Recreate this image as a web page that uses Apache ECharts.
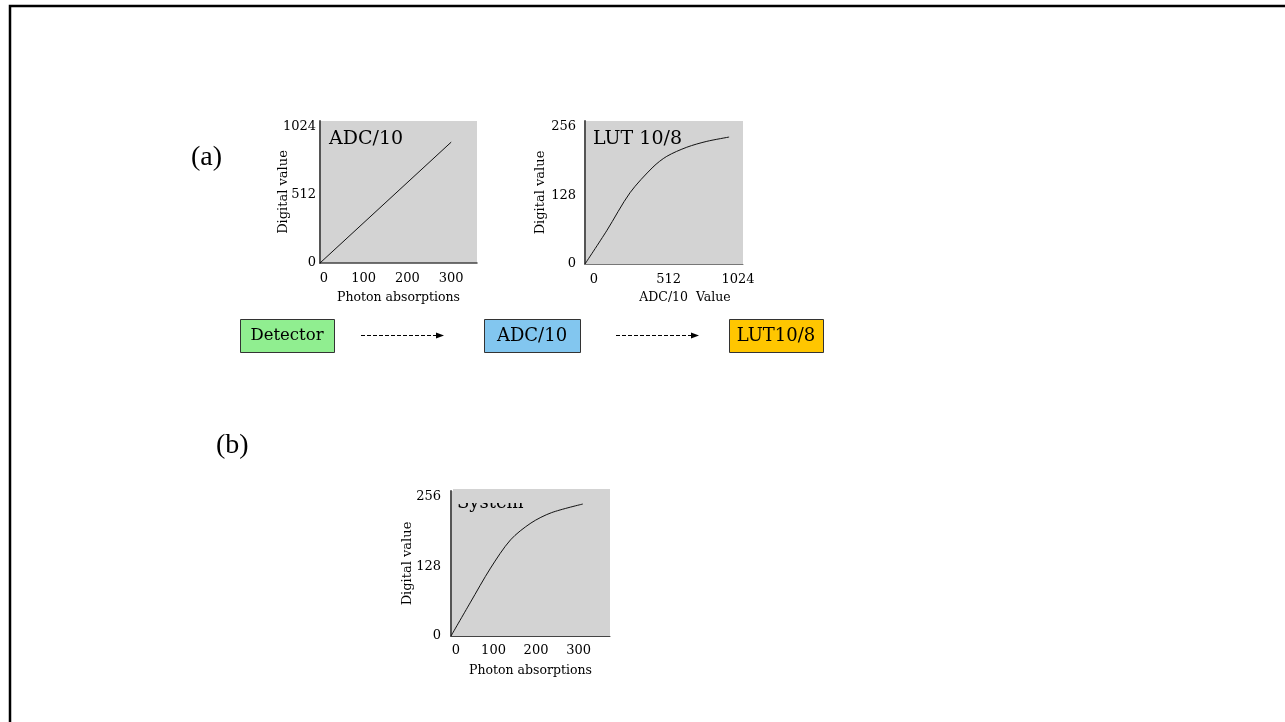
<!DOCTYPE html>
<html>
<head>
<meta charset="utf-8">
<script src="https://cdn.jsdelivr.net/npm/echarts@6/dist/echarts.min.js"></script>
<style>
  html, body { margin: 0; padding: 0; background: #fff; }
  #chart { width: 1285px; height: 722px; }
</style>
</head>
<body>
<div id="chart"></div>
<script>
// ADC/10 : photon absorptions -> digital value
const adcX = [0, 300]
const adcY = [0, 910]
// LUT 10/8 : ADC/10 value -> digital value
const lutX = [0, 145, 301, 455, 547, 681, 815, 964]
const lutY = [0, 62, 133, 181, 201, 218, 229, 237]
// System : photon absorptions -> digital value
const sysX = [0, 45, 93, 140, 188, 236, 310]
const sysY = [0, 61, 125, 177, 208, 227, 243]

// tick labels
const photonTicks = [0, 100, 200, 300]
const adcValueTicks = [0, 512, 1024]
const adcTicks = [0, 512, 1024]
const lutTicks = [0, 128, 256]

const GRAY = '#d3d3d3'
const FONT = 'DejaVu Serif'

const pairs = (xs, ys) => xs.map((x, i) => [x, ys[i]])
const only = list => v => (list.includes(v) ? String(v) : '')

function xAxis(gridIndex, max, interval, ticks, name, extra) {
  return Object.assign({
    type: 'value',
    gridIndex: gridIndex,
    min: 0,
    max: max,
    interval: interval,
    name: name,
    nameLocation: 'middle',
    nameGap: 28,
    nameMoveOverlap: false,
    nameTextStyle: { fontFamily: FONT, fontSize: 12.5, color: '#000' },
    axisLine: { show: true, lineStyle: { color: '#444', width: 1.5 } },
    axisTick: { show: false },
    splitLine: { show: false },
    axisLabel: { margin: 9, fontFamily: FONT, fontSize: 13, color: '#000', formatter: only(ticks) }
  }, extra || {})
}

function yAxis(gridIndex, max, interval, ticks, margin, gap) {
  return {
    type: 'value',
    gridIndex: gridIndex,
    min: 0,
    max: max,
    interval: interval,
    name: 'Digital value',
    nameLocation: 'middle',
    nameGap: gap,
    nameMoveOverlap: false,
    nameTextStyle: { fontFamily: FONT, fontSize: 13, color: '#000' },
    axisLine: { show: true, lineStyle: { color: '#555', width: 2 } },
    axisTick: { show: false },
    splitLine: { show: false },
    axisLabel: { margin: margin, fontFamily: FONT, fontSize: 13, color: '#000', formatter: only(ticks) }
  }
}

function curve(i, data, smooth) {
  return {
    type: 'line',
    xAxisIndex: i,
    yAxisIndex: i,
    data: data,
    smooth: smooth,
    showSymbol: false,
    silent: true,
    lineStyle: { color: '#111', width: 1 }
  }
}

const chart = echarts.init(document.getElementById('chart'))

const option = {
  animation: false,
  grid: [
    { left: 320, top: 121, width: 157, height: 142, show: true, backgroundColor: GRAY, borderWidth: 0 },
    { left: 585, top: 121, width: 158, height: 143, show: true, backgroundColor: GRAY, borderWidth: 0 },
    { left: 451, top: 491, width: 159, height: 145, show: true, backgroundColor: GRAY, borderWidth: 0 }
  ],
  xAxis: [
    xAxis(0, 359, 100, photonTicks, 'Photon absorptions', {
      axisLabel: {
        margin: 9, fontFamily: FONT, fontSize: 13, color: '#000',
        formatter: v => (v === 0 ? '{a|0}' : photonTicks.includes(v) ? String(v) : ''),
        rich: { a: { fontFamily: FONT, fontSize: 13, color: '#000', padding: [0, 0, 0, 8] } }
      }
    }),
    xAxis(1, 1057, 512, adcValueTicks, 'ADC/10  Value', {
      nameTextStyle: { fontFamily: FONT, fontSize: 12.5, color: '#000', padding: [0, 0, 0, 42] },
      nameGap: 27,
      axisLine: { show: true, lineStyle: { color: '#777', width: 1 } },
      axisLabel: {
        margin: 9, fontFamily: FONT, fontSize: 13, color: '#000',
        formatter: v => (v === 0 ? '{a|0}' : v === 512 ? '{b|512}' : v === 1024 ? '1024' : ''),
        rich: {
          a: { fontFamily: FONT, fontSize: 13, color: '#000', padding: [0, 0, 0, 18] },
          b: { fontFamily: FONT, fontSize: 13, color: '#000', padding: [0, 0, 0, 14] }
        }
      }
    }),
    xAxis(2, 374, 100, photonTicks, 'Photon absorptions', {
      axisLine: { show: true, lineStyle: { color: '#444', width: 1 } },
      axisLabel: {
        margin: 8, fontFamily: FONT, fontSize: 13, color: '#000',
        formatter: v => (v === 0 ? '{a|0}' : photonTicks.includes(v) ? String(v) : ''),
        rich: { a: { fontFamily: FONT, fontSize: 13, color: '#000', padding: [0, 0, 0, 10] } }
      }
    })
  ],
  yAxis: [
    yAxis(0, 1069, 512, adcTicks, 4, 30),
    yAxis(1, 267, 128, lutTicks, 9, 38),
    yAxis(2, 267, 128, lutTicks, 10, 37)
  ],
  series: [
    curve(0, pairs(adcX, adcY), false),
    curve(1, pairs(lutX, lutY), 0.3),
    curve(2, pairs(sysX, sysY), 0.3)
  ],
  graphic: [
    // frame
    { type: 'polyline', shape: { points: [[10, 722], [10, 6], [1285, 6]] }, style: { stroke: '#000', lineWidth: 2.5, fill: null } },
    // panel labels
    { type: 'text', style: { x: 191, y: 158, text: '(a)', font: '28px "Liberation Serif"', fill: '#000', textVerticalAlign: 'middle' } },
    { type: 'text', style: { x: 216, y: 446, text: '(b)', font: '28px "Liberation Serif"', fill: '#000', textVerticalAlign: 'middle' } },
    // chart titles
    { type: 'text', z: 10, style: { x: 329, y: 139, text: 'ADC/10', font: '19px "DejaVu Serif"', fill: '#000', textVerticalAlign: 'middle' } },
    { type: 'text', z: 10, style: { x: 593, y: 139, text: 'LUT 10/8', font: '19px "DejaVu Serif"', fill: '#000', textVerticalAlign: 'middle' } },
    { type: 'text', z: 10, style: { x: 457, y: 503, text: 'System', font: '18px "DejaVu Serif"', fill: '#000', textVerticalAlign: 'middle' } },
    { type: 'rect', z: 11, shape: { x: 453, y: 489, width: 157, height: 14 }, style: { fill: GRAY } },
    // pipeline boxes
    { type: 'rect', shape: { x: 240.5, y: 319.5, width: 94, height: 33 }, style: { fill: '#90ee90', stroke: '#333', lineWidth: 1 } },
    { type: 'text', style: { x: 287, y: 336, text: 'Detector', font: '16.5px "DejaVu Serif"', fill: '#000', textAlign: 'center', textVerticalAlign: 'middle' } },
    { type: 'rect', shape: { x: 484.5, y: 319.5, width: 96, height: 33 }, style: { fill: '#82c6ef', stroke: '#333', lineWidth: 1 } },
    { type: 'text', style: { x: 532, y: 336, text: 'ADC/10', font: '18px "DejaVu Serif"', fill: '#000', textAlign: 'center', textVerticalAlign: 'middle' } },
    { type: 'rect', shape: { x: 729.5, y: 319.5, width: 94, height: 33 }, style: { fill: '#ffc600', stroke: '#333', lineWidth: 1 } },
    { type: 'text', style: { x: 776, y: 336, text: 'LUT10/8', font: '18px "DejaVu Serif"', fill: '#000', textAlign: 'center', textVerticalAlign: 'middle' } },
    // arrows
    { type: 'line', shape: { x1: 361, y1: 335.5, x2: 437, y2: 335.5 }, style: { stroke: '#000', lineWidth: 1, lineDash: [4, 2] } },
    { type: 'polygon', shape: { points: [[436, 332.5], [444, 335.5], [436, 338.5]] }, style: { fill: '#000' } },
    { type: 'line', shape: { x1: 616, y1: 335.5, x2: 692, y2: 335.5 }, style: { stroke: '#000', lineWidth: 1, lineDash: [4, 2] } },
    { type: 'polygon', shape: { points: [[691, 332.5], [699, 335.5], [691, 338.5]] }, style: { fill: '#000' } }
  ]
}

chart.setOption(option)
</script>
</body>
</html>
